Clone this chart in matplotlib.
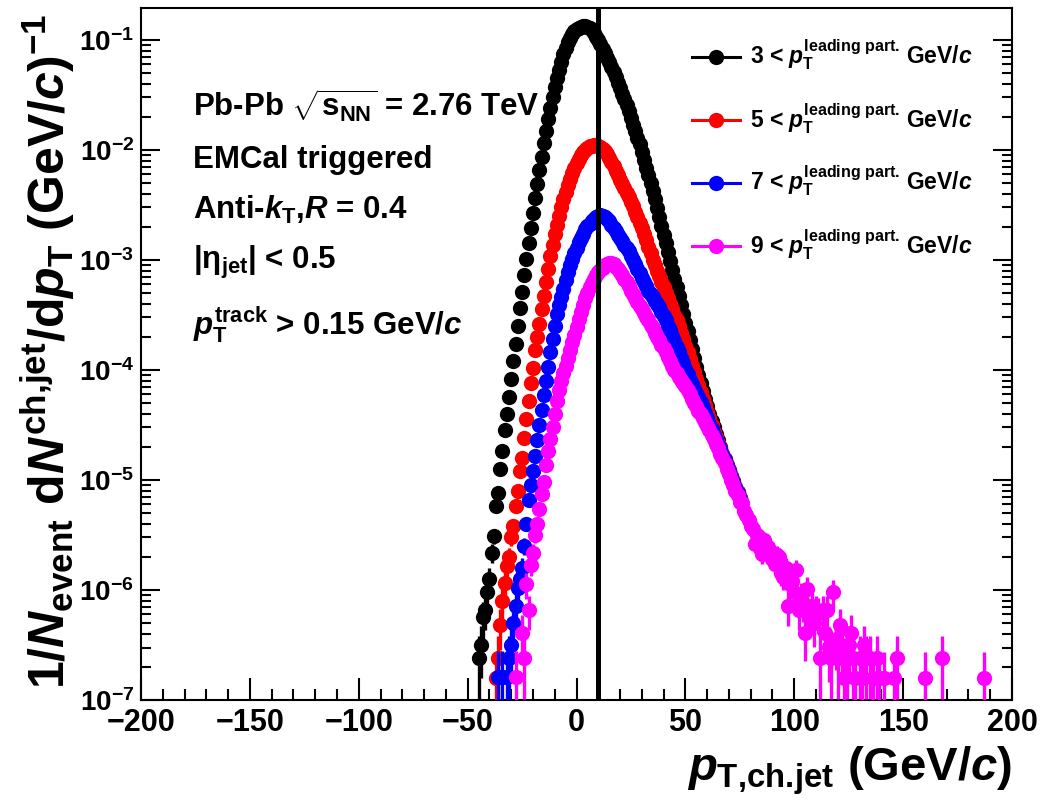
import numpy as np
import matplotlib
matplotlib.use("Agg")
import matplotlib.pyplot as plt
from matplotlib.lines import Line2D
from matplotlib.ticker import MultipleLocator, LogLocator, LogFormatterMathtext, NullFormatter

nan = np.nan

# ---------------- data (log10 of 1/N dN/dpT per 1 GeV bin) ----------------
black_start = -45
black_log10 = [-6.62, -6.50, -6.25, -6.18, -6.02, -5.90, -5.66, -5.51, -5.24, -5.12,
               -4.90, -4.74, -4.55, -4.40, -4.25, -4.08, -3.92, -3.76, -3.60, -3.44,
               -3.29, -3.14, -2.99, -2.85, -2.71, -2.57, -2.44, -2.31, -2.18, -2.06,
               -1.94, -1.83, -1.72, -1.62, -1.52, -1.43, -1.35, -1.27, -1.20, -1.13,
               -1.07, -1.02, -0.98, -0.95, -0.92, -0.90, -0.89, -0.88, -0.875, -0.875,
               -0.88, -0.89, -0.91, -0.94, -0.97, -1.00, -1.04, -1.08, -1.12, -1.16,
               -1.20, -1.25, -1.29, -1.34, -1.39, -1.44, -1.49, -1.54, -1.59, -1.65,
               -1.71, -1.77, -1.83, -1.89, -1.95, -2.02, -2.09, -2.16, -2.23, -2.30,
               -2.37, -2.45, -2.53, -2.61, -2.69, -2.77, -2.85, -2.93, -3.01, -3.09,
               -3.17, -3.25, -3.33, -3.41, -3.49, -3.57, -3.65, -3.73, -3.81, -3.89,
               -3.97, -4.05, -4.12, -4.19, -4.26, -4.33, -4.40, -4.46, -4.52, -4.58,
               -4.64, -4.70, -4.76, -4.81, -4.86, -4.91, -4.96, -5.01, -5.06, -5.11,
               -5.16]

red_start = -37
red_log10 = [-6.80, -6.62, -6.32, -6.10, -5.94, -5.78, -5.70, -5.52, -5.42, -5.24,
             -5.10, -4.92, -4.80, -4.62, -4.45, -4.28, -4.12, -3.98, -3.82, -3.70,
             -3.58, -3.45, -3.33, -3.20, -3.08, -2.96, -2.86, -2.76, -2.68, -2.60,
             -2.52, -2.45, -2.38, -2.32, -2.26, -2.21, -2.16, -2.12, -2.08, -2.05,
             -2.02, -2.00, -1.98, -1.965, -1.96, -1.955, -1.955, -1.96, -1.97, -1.99,
             -2.01, -2.04, -2.07, -2.11, -2.15, -2.19, -2.23, -2.27, -2.31, -2.35,
             -2.39, -2.43, -2.47, -2.51, -2.56, -2.61, -2.66, -2.71, -2.76, -2.82,
             -2.88, -2.94, -3.00, -3.05, -3.10, -3.15, -3.20, -3.25, -3.30, -3.35,
             -3.40, -3.45, -3.50, -3.55, -3.60, -3.66, -3.72, -3.78, -3.84, -3.90,
             -3.96, -4.02, -4.08, -4.14, -4.20, -4.26, -4.32, -4.38, -4.44, -4.50,
             -4.56, -4.61, -4.66, -4.71, -4.76, -4.81, -4.86, -4.91, -4.96, -5.01,
             -5.06, -5.11, -5.16]

blue_start = -36
blue_log10 = [-6.79, nan, -6.79, nan, -6.79, -6.62, -6.50, -6.30, -6.15, -5.98,
              -5.90, -5.80, -5.60, -5.40, -5.18, -5.05, -4.92, -4.78, -4.64, -4.50,
              -4.36, -4.23, -4.10, -3.97, -3.84, -3.72, -3.60, -3.49, -3.41, -3.34,
              -3.26, -3.18, -3.11, -3.05, -2.99, -2.94, -2.89, -2.84, -2.80, -2.76,
              -2.72, -2.69, -2.67, -2.65, -2.63, -2.61, -2.60, -2.595, -2.60, -2.61,
              -2.63, -2.65, -2.68, -2.71, -2.74, -2.77, -2.80, -2.83, -2.86, -2.89,
              -2.92, -2.96, -3.00, -3.04, -3.08, -3.12, -3.16, -3.20, -3.24, -3.28,
              -3.31, -3.34, -3.37, -3.40, -3.43, -3.47, -3.51, -3.55, -3.60, -3.64,
              -3.69, -3.74, -3.79, -3.84, -3.89, -3.94, -3.99, -4.04, -4.09, -4.13,
              -4.17, -4.21, -4.25, -4.29, -4.34, -4.39, -4.44, -4.49, -4.54, -4.59,
              -4.64, -4.68, -4.72, -4.77, -4.82, -4.87, -4.92, -4.97, -5.02, -5.07,
              -5.12, -5.17]

magenta_start = -28
magenta_log10 = [-6.79, nan, nan, -6.39, -6.62, -5.95, -6.18, -5.77, -5.66, -5.50,
                 -5.40, -5.26, -5.13, -5.02, -4.86, -4.74, -4.63, -4.52, -4.40, -4.28,
                 -4.18, -4.10, -4.03, -3.96, -3.89, -3.82, -3.75, -3.68, -3.61, -3.54,
                 -3.47, -3.41, -3.35, -3.30, -3.25, -3.21, -3.17, -3.14, -3.11, -3.09,
                 -3.07, -3.05, -3.04, -3.03, -3.03, -3.04, -3.06, -3.08, -3.11, -3.14,
                 -3.17, -3.20, -3.24, -3.28, -3.31, -3.35, -3.38, -3.42, -3.45, -3.48,
                 -3.52, -3.55, -3.59, -3.62, -3.66, -3.70, -3.73, -3.77, -3.80, -3.84,
                 -3.88, -3.92, -3.96, -4.00, -4.03, -4.06, -4.09, -4.12, -4.15, -4.18,
                 -4.22, -4.26, -4.30, -4.33, -4.37, -4.40, -4.44, -4.47, -4.51, -4.55,
                 -4.59, -4.63, -4.67, -4.71, -4.76, -4.80, -4.85, -4.90, -4.95, -5.00,
                 -5.05, -5.10, -5.14, -5.20, -5.21, -5.28, -5.32, -5.36, -5.42, -5.45,
                 -5.58, -5.50, -5.52, -5.67, -5.55, -5.62, -5.61, -5.66, -5.72, -5.76,
                 -5.68, -5.70, -5.85, -5.88, -5.80, -6.15, -5.95, -5.92, -6.02, -5.82,
                 -6.18, -6.05, -6.12, -6.39, -5.99, -6.22, -6.15, -6.30, -6.18, -6.21]

# sparse high-pT tail of the 9 GeV/c selection (bin centre, log10 value)
magenta_tail_x = [112, 113, 114, 115, 116, 117, 118, 119, 120, 121, 122, 123, 124, 125,
                  126, 127, 128, 130, 131, 132, 133, 135, 136, 138, 139, 141, 146, 147,
                  160, 168, 187]
magenta_tail_log10 = [-6.62, -6.18, -6.39, -6.18, -6.52, -6.62, -6.02, -6.45, -6.62, -6.32,
                      -6.50, -6.80, -6.62, -6.50, -6.39, -6.62, -6.80, -6.62, -6.80, -6.50,
                      -6.62, -6.62, -6.80, -6.62, -6.80, -6.80, -6.80, -6.62, -6.80, -6.62,
                      -6.80]

count_unit = 8e-8   # yield corresponding to a single entry (sets the statistical error size)

labels = [r"3 < $p_{\mathrm{T}}^{\text{leading part.}}$ GeV/$c$",
          r"5 < $p_{\mathrm{T}}^{\text{leading part.}}$ GeV/$c$",
          r"7 < $p_{\mathrm{T}}^{\text{leading part.}}$ GeV/$c$",
          r"9 < $p_{\mathrm{T}}^{\text{leading part.}}$ GeV/$c$"]
colors = ["#000000", "#ff0000", "#0000ff", "#ff00ff"]
x_ticks = [-200, -150, -100, -50, 0, 50, 100, 150, 200]
line_x = 10

# ---------------- style ----------------
plt.rcParams["font.family"] = ["Liberation Sans", "DejaVu Sans"]
plt.rcParams["font.weight"] = "bold"
plt.rcParams["mathtext.fontset"] = "custom"
plt.rcParams["mathtext.rm"] = "Liberation Sans:bold"
plt.rcParams["mathtext.it"] = "Liberation Sans:bold:italic"
plt.rcParams["mathtext.bf"] = "Liberation Sans:bold"
plt.rcParams["mathtext.sf"] = "Liberation Sans:bold"
plt.rcParams["axes.unicode_minus"] = True

W, H = 1044, 800
fig = plt.figure(figsize=(W / 100, H / 100), dpi=100)
ax = fig.add_axes([141 / W, 100 / H, (1012 - 141) / W, (792 - 100) / H])


def draw(start, vals, color, z, extra_x=None, extra_vals=None):
    x = start + np.arange(len(vals), dtype=float)
    y = 10.0 ** np.array(vals, dtype=float)
    if extra_x is not None:
        x = np.concatenate([x, np.array(extra_x, dtype=float)])
        y = np.concatenate([y, 10.0 ** np.array(extra_vals, dtype=float)])
    err = np.sqrt(y * count_unit)
    low = np.minimum(err, 0.999 * y)
    ax.errorbar(x, y, yerr=[low, err], fmt="o", color=color, ms=11, mew=0,
                elinewidth=2.4, capsize=0, zorder=z)


draw(black_start, black_log10, colors[0], 3)
draw(red_start, red_log10, colors[1], 4)
draw(blue_start, blue_log10, colors[2], 5)
draw(magenta_start, magenta_log10, colors[3], 6, magenta_tail_x, magenta_tail_log10)

ax.axvline(line_x, color="black", lw=3.6, zorder=10)

ax.set_yscale("log")
ax.set_xlim(-200, 200)
ax.set_ylim(1e-7, 0.195)

ax.xaxis.set_major_locator(MultipleLocator(50))
ax.xaxis.set_minor_locator(MultipleLocator(10))
ax.set_xticks(x_ticks)
ax.yaxis.set_major_locator(LogLocator(base=10, numticks=20))
ax.yaxis.set_minor_locator(LogLocator(base=10, subs=np.arange(2, 10), numticks=20))
ax.yaxis.set_major_formatter(LogFormatterMathtext())
ax.yaxis.set_minor_formatter(NullFormatter())

ax.tick_params(which="both", direction="in", top=False, right=True, width=1.5)
ax.tick_params(axis="x", which="major", length=16, labelsize=22, pad=6)
ax.tick_params(axis="x", which="minor", length=8)
ax.tick_params(axis="y", which="major", length=14, labelsize=20, pad=5)
ax.tick_params(axis="y", which="minor", length=7)
for sp in ax.spines.values():
    sp.set_linewidth(1.5)

# ---------------- legend (ROOT style, drawn by hand) ----------------
rows_line_px = [56.5, 119.5, 182.5, 246]
for c, lab, yp in zip(colors, labels, rows_line_px):
    fy = 1 - yp / H
    fig.add_artist(Line2D([692 / W, 740 / W], [fy, fy], color=c, lw=2.2))
    fig.add_artist(Line2D([716 / W], [fy], color=c, marker="o", ms=11, mew=0))
    fig.text(750 / W, 1 - (yp + 7.5) / H, lab, fontsize=16.5, va="baseline", ha="left")

# ---------------- annotations ----------------
ann = [(r"Pb-Pb $\sqrt{\mathrm{s}_{\mathrm{NN}}}$ = 2.76 TeV", 116.7),
       (r"EMCal triggered", 168.3),
       (r"Anti-$k_{\mathrm{T}}$,$R$ = 0.4", 218.5),
       (r"$|\mathrm{\eta}_{\mathrm{jet}}|$ < 0.5", 268.5),
       (r"$p_{\mathrm{T}}^{\text{track}}$ > 0.15 GeV/$c$", 335)]
for t, yb in ann:
    fig.text(193 / W, 1 - yb / H, t, fontsize=22.5, va="baseline", ha="left")

# ---------------- axis titles ----------------
fig.text(1012 / W, 1 - 797 / H, r"$p_{\text{T,ch.jet}}$ (GeV/$c$)", fontsize=34,
         ha="right", va="bottom")
fig.text(48 / W, 1 - 14 / H,
         r"1/$N_{\text{event}}$ d$N^{\text{ch,jet}}$/d$p_{\mathrm{T}}$ (GeV/$c$)$^{-1}$",
         fontsize=36, rotation=90, ha="center", va="top")

fig.savefig("out.png", dpi=100)
